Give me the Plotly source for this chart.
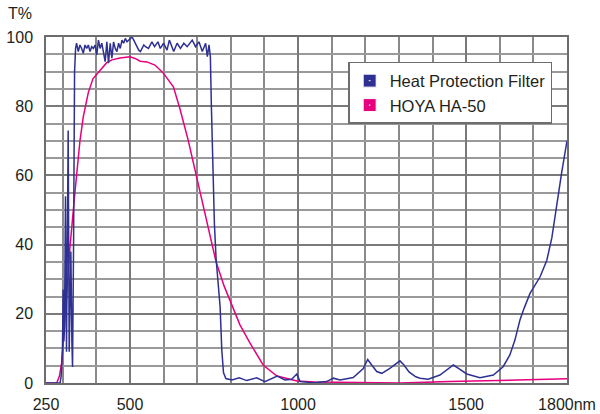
import plotly.graph_objects as go

# Heat Protection Filter transmission (wavelength nm, T%)
blue_nm = [250, 280, 292, 295, 297, 299, 301, 303, 305, 308, 311, 313, 316, 319, 322, 324, 327, 329, 332, 335,
           338, 341, 346, 351, 356, 361, 366, 371, 376, 381, 386, 391, 396, 401, 406, 411, 416, 421, 426, 431,
           436, 441, 446, 451, 456, 461, 466, 471, 476, 481, 486, 491, 496, 501, 506, 511, 516, 521, 526, 531,
           536, 541, 546, 555, 565, 573, 583, 590, 600, 610, 617, 630, 640, 650, 660, 670, 685, 695, 705, 715,
           725, 730, 735, 739, 742, 746, 751, 756, 762, 768, 773, 778, 785, 803, 825, 847, 877, 901, 938, 961,
           981, 996, 1006, 1044, 1085, 1105, 1125, 1164, 1194, 1207, 1219, 1234, 1249, 1273, 1303, 1315, 1330,
           1350, 1363, 1387, 1422, 1447, 1462, 1477, 1502, 1541, 1581, 1610, 1630, 1645, 1660, 1672, 1690, 1720,
           1740, 1755, 1770, 1784, 1800]
blue_t = [0, 0, 0, 2, 6, 10, 27, 12, 16, 54, 9, 30, 73, 9, 25, 38, 12, 4.6, 40, 90,
          96.7, 98.2, 95.8, 97.7, 96.7, 95.3, 97.7, 96.7, 97.7, 95.8, 97.2, 96.7, 97.7, 94.8, 99.1, 96.7, 98.2, 95.3, 92.9, 98.6,
          92.4, 98.2, 93.9, 98.6, 96.7, 95.8, 98.2, 96.7, 99.1, 98.2, 99.6, 98.6, 99.1, 99.6, 100, 99.1, 98.2, 97.2, 96.2, 95.8,
          96.7, 97.7, 97.2, 96.7, 98.6, 97.2, 98.6, 96.7, 98.2, 96.2, 99.1, 95.8, 98.2, 96.7, 98.2, 97.2, 99.1, 97.2, 98.6, 95.8,
          98.2, 94.3, 97.7, 94.3, 80, 62, 46, 36, 28, 22, 9.5, 3, 1.3, 0.9, 1.5, 0.7, 1.5, 0.4, 2, 0.9,
          1.1, 2.6, 0.4, 0.1, 0.4, 1.4, 0.9, 1.6, 4.2, 6.8, 5.2, 3.3, 2.8, 4.2, 6.4, 5.2, 3.2,
          1.8, 1.4, 1.1, 2.3, 4.2, 5.2, 4.2, 2.6, 1.5, 2.3, 4.7, 8.1, 12.4, 18.2, 21.5, 25.9, 30.7,
          35.5, 42, 52, 60.7, 70]

# HOYA HA-50 transmission
pink_nm = [250, 282, 290, 297, 310, 321, 336, 351, 361, 371, 376, 390, 411, 430, 446, 470, 500, 515, 530, 550,
           574, 598, 629, 648, 673, 700, 730, 756, 780, 803, 827, 857, 896, 937, 997, 1050, 1200, 1304, 1450, 1601, 1800]
pink_t = [0, 0, 2, 6, 23, 39, 55, 70, 77, 82, 84, 88, 90.5, 92.5, 93.4, 93.9, 94.3, 93.8, 93, 92.8,
          91.9, 89.7, 85.6, 79.4, 70.2, 59, 46, 35, 28, 22.5, 16.8, 11.5, 5.2, 2, 0.6, 0.3, 0.1, 0, 0.4, 0.7, 1.2]

series_names = ["Heat Protection Filter", "HOYA HA-50"]
series_colors = ["#2e3192", "#e6007e"]

x_tickvals = [250, 500, 1000, 1500, 1800]
x_ticktext = ["250", "500", "1000", "1500", "1800nm"]
y_tickvals = [0, 20, 40, 60, 80, 100]

FONT = "Liberation Sans, Arial, Helvetica, sans-serif"
TXT = "#231f20"

fig = go.Figure()
fig.add_trace(go.Scatter(x=pink_nm, y=pink_t, mode="lines", line=dict(color=series_colors[1], width=1.5),
                         showlegend=False, hoverinfo="skip"))
fig.add_trace(go.Scatter(x=blue_nm, y=blue_t, mode="lines", line=dict(color=series_colors[0], width=1.5),
                         showlegend=False, hoverinfo="skip"))
for name, col in zip(series_names, series_colors):
    fig.add_trace(go.Scatter(x=[None], y=[None], mode="markers", name=name,
                             marker=dict(symbol="square-dot", size=13, color=col,
                                         line=dict(color="white", width=1))))

fig.update_layout(
    width=600, height=414,
    margin=dict(l=46, r=33, t=37, b=31),
    paper_bgcolor="white", plot_bgcolor="white",
    font=dict(family=FONT, size=16, color=TXT),
    legend=dict(x=0.58, y=0.928, xanchor="left", yanchor="top",
                bgcolor="white", bordercolor="#6d6d6d", borderwidth=1.5,
                font=dict(size=16.5, color=TXT), itemwidth=30, tracegroupgap=0),
    annotations=[dict(text="T%", xref="paper", yref="paper", x=-0.05, y=1.068,
                      xanchor="center", yanchor="middle", showarrow=False,
                      font=dict(size=16, color=TXT))],
)
fig.update_xaxes(range=[250, 1800], tickvals=x_tickvals, ticktext=x_ticktext, ticks="",
                 automargin=False,
                 showgrid=True, gridcolor="#7a7a7a", gridwidth=1.5,
                 minor=dict(tick0=0, dtick=100, showgrid=True, gridcolor="#8a8a8a", gridwidth=1.5),
                 showline=True, mirror=True, linecolor="#6d6d6d", linewidth=1.5, zeroline=False,
                 tickfont=dict(size=16, color=TXT), ticklabelstandoff=6)
fig.update_yaxes(range=[0, 100], tickvals=y_tickvals, ticks="",
                 automargin=False,
                 showgrid=True, gridcolor="#7a7a7a", gridwidth=1.5,
                 minor=dict(tick0=0, dtick=5, showgrid=True, gridcolor="#9a9a9a", gridwidth=1.5),
                 showline=True, mirror=True, linecolor="#6d6d6d", linewidth=1.5, zeroline=False,
                 tickfont=dict(size=16, color=TXT), ticklabelstandoff=8)

fig.write_html("out.html", config={"displayModeBar": False},
               post_script="document.body.style.margin='0px';")
